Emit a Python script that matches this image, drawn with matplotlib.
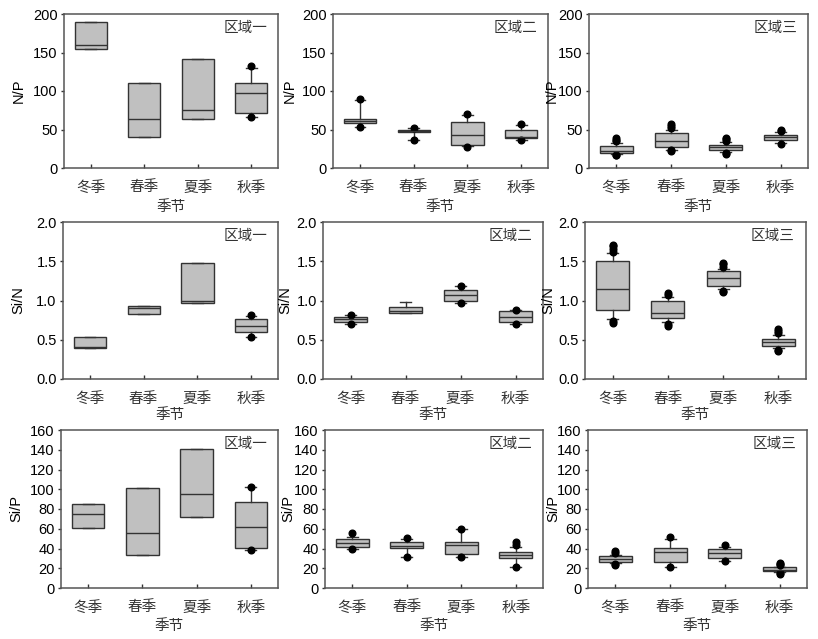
import matplotlib
matplotlib.use("Agg")
import matplotlib.pyplot as plt

plt.rcParams['font.family'] = ['Liberation Sans', 'Noto Sans CJK SC', 'DejaVu Sans']
plt.rcParams['font.size'] = 10.5

seasons = ['冬季', '春季', '夏季', '秋季']
regions = ['区域一', '区域二', '区域三']
ratios = ['N/P', 'Si/N', 'Si/P']
ylims = [(0, 200), (0, 2.0), (0, 160)]
yticks = [[0, 50, 100, 150, 200],
          [0.0, 0.5, 1.0, 1.5, 2.0],
          [0, 20, 40, 60, 80, 100, 120, 140, 160]]
ytick_fmt = ['{:.0f}', '{:.1f}', '{:.0f}']

# box summary per season: (whislo, q1, med, q3, whishi, fliers)
np_r1 = [(155, 155, 160, 190, 190, []),
         (40, 40, 63.5, 111, 111, []),
         (64, 64, 75, 142, 142, []),
         (66, 72, 97, 110, 130, [133, 66])]
np_r2 = [(53, 58, 61, 64, 88, [89, 53]),
         (37, 46.5, 48, 49.5, 52, [52, 37]),
         (28, 30, 43.5, 60, 69, [70, 27]),
         (37, 39, 40.5, 49.5, 56, [57, 36.5])]
np_r3 = [(18, 19, 22, 28.7, 32.6, [35, 37, 39.5, 17, 16.5]),
         (24, 27, 35, 45, 50, [52, 54, 56.5, 23, 22]),
         (21, 24, 27.4, 30.4, 34, [35.5, 37.5, 39.5, 19.5, 18.7]),
         (32.6, 36, 40.4, 43.5, 46.5, [48, 50, 31])]

sin_r1 = [(0.40, 0.40, 0.41, 0.54, 0.54, []),
          (0.83, 0.83, 0.90, 0.93, 0.93, []),
          (0.966, 0.966, 1.0, 1.48, 1.48, []),
          (0.54, 0.593, 0.674, 0.763, 0.80, [0.814, 0.54])]
sin_r2 = [(0.70, 0.732, 0.762, 0.787, 0.81, [0.81, 0.70]),
          (0.843, 0.843, 0.864, 0.923, 0.98, []),
          (0.966, 1.0, 1.064, 1.128, 1.18, [1.19, 0.966]),
          (0.70, 0.728, 0.787, 0.86, 0.885, [0.885, 0.70])]
sin_r3 = [(0.763, 0.883, 1.143, 1.497, 1.61, [1.62, 1.66, 1.69, 1.71, 0.74, 0.712]),
          (0.73, 0.772, 0.84, 0.998, 1.045, [1.07, 1.10, 0.70, 0.67]),
          (1.147, 1.181, 1.292, 1.373, 1.407, [1.43, 1.46, 1.48, 1.12, 1.109]),
          (0.392, 0.422, 0.465, 0.512, 0.563, [0.58, 0.61, 0.635, 0.37, 0.358])]

sip_r1 = [(60.6, 60.6, 75.4, 85.5, 85.5, []),
          (33.3, 33.3, 55.9, 101.7, 101.7, []),
          (72.4, 72.4, 95, 141, 141, []),
          (38, 41, 62, 86.9, 102, [102, 38])]
sip_r2 = [(39.4, 42, 46, 49.5, 52, [55.5, 39.4]),
          (31.3, 40.4, 42.8, 47, 49.8, [50.5, 31.3]),
          (31.6, 34, 43.4, 46.5, 60, [60, 31.6]),
          (21.5, 30.6, 33.7, 36.4, 42, [43.8, 46.5, 21.5])]
sip_r3 = [(25, 26.8, 29.5, 31.9, 33.9, [35, 37, 24.5, 23.7]),
          (21.4, 26.8, 36.3, 41, 50, [51.9, 21]),
          (27, 30.8, 35, 39.3, 42, [44, 27]),
          (16, 17, 18.6, 21, 21.7, [23, 24.5, 25.8, 15, 14.2])]

data = [[np_r1, np_r2, np_r3],
        [sin_r1, sin_r2, sin_r3],
        [sip_r1, sip_r2, sip_r3]]

# axes rectangles in pixels: left, right, top, bottom
W, H = 818, 639
rects = [[(64, 278, 14, 168), (333, 548, 14, 168), (589, 808, 14, 168)],
         [(63, 278, 222, 379), (323, 543, 222, 379), (585, 806, 222, 379)],
         [(61, 278, 430, 588), (325, 543, 430, 588), (588, 807, 430, 588)]]
ylab_x = [[-0.18, -0.17, -0.14],
          [-0.175, -0.14, -0.135],
          [-0.175, -0.135, -0.125]]
xlab_y = [-0.21, -0.185, -0.195]

edge = '#333333'
spine_c = '#555555'
fig = plt.figure(figsize=(W / 100, H / 100), dpi=100)

for r in range(3):
    for c in range(3):
        l, rr, t, b = rects[r][c]
        ax = fig.add_axes([l / W, 1 - b / H, (rr - l) / W, (b - t) / H])
        stats = []
        for (lo, q1, med, q3, hi, fl) in data[r][c]:
            stats.append(dict(whislo=lo, q1=q1, med=med, q3=q3, whishi=hi, fliers=fl))
        ax.bxp(stats, positions=[1, 2, 3, 4], widths=0.6, capwidths=0.2,
               patch_artist=True, showfliers=True,
               boxprops=dict(facecolor='#c0c0c0', edgecolor=edge, linewidth=1.0),
               medianprops=dict(color=edge, linewidth=1.0),
               whiskerprops=dict(color=edge, linewidth=1.0),
               capprops=dict(color=edge, linewidth=1.0),
               flierprops=dict(marker='o', markersize=4.8, markerfacecolor='black',
                               markeredgecolor='black', linestyle='none'))
        ax.set_xlim(0.5, 4.5)
        ax.set_ylim(*ylims[r])
        ax.set_yticks(yticks[r])
        ax.set_yticklabels([ytick_fmt[r].format(v) for v in yticks[r]])
        ax.set_xticks([1, 2, 3, 4])
        ax.set_xticklabels(seasons, fontsize=10.5, color='#333333')
        ax.tick_params(axis='x', direction='in', length=3, width=1, color=edge, pad=9)
        ax.tick_params(axis='y', direction='out', length=2.5, width=1, color=edge, pad=2)
        for s in ax.spines.values():
            s.set_color(spine_c)
            s.set_linewidth(1.1)
        ax.set_ylabel(ratios[r])
        ax.yaxis.set_label_coords(ylab_x[r][c], 0.5)
        ax.set_xlabel('季节', color='#333333')
        ax.xaxis.set_label_coords(0.5, xlab_y[r])
        ax.text(0.95, 0.91, regions[c], transform=ax.transAxes,
                ha='right', va='center', color='#333333')

fig.savefig('out.png', dpi=100)
